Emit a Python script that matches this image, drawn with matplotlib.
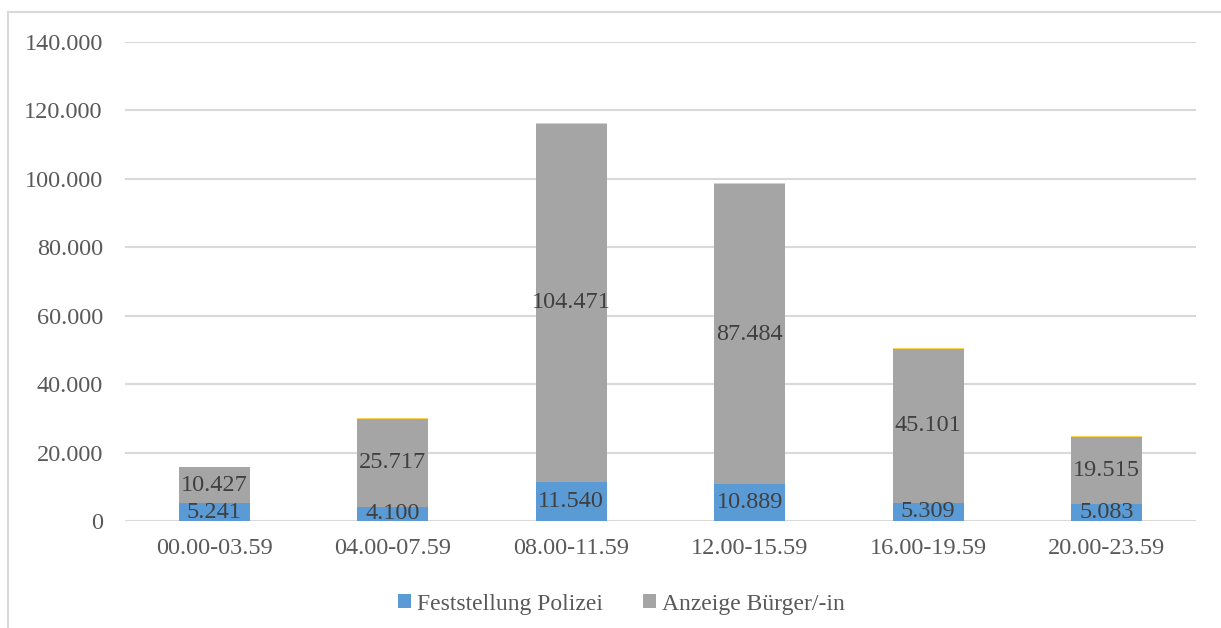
import numpy as np
import matplotlib.pyplot as plt
from matplotlib.lines import Line2D

# time slots and counts per source
zeitraum = ["00.00-03.59", "04.00-07.59", "08.00-11.59",
            "12.00-15.59", "16.00-19.59", "20.00-23.59"]
polizei = [5241, 4100, 11540, 10889, 5309, 5083]
buerger = [10427, 25717, 104471, 87484, 45101, 19515]
sonstige = [200, 220, 250, 300, 250, 230]

y_ticks = [0, 20000, 40000, 60000, 80000, 100000, 120000, 140000]

def fmt(v):
    return f"{v:,}".replace(",", ".")

plt.rcParams['font.family'] = ['Liberation Serif', 'DejaVu Serif']

fig = plt.figure(figsize=(12.21, 6.28), dpi=100)
ax = fig.add_axes([0.1024, 0.1704, 0.8771, 0.7627])

x = np.arange(len(zeitraum))
w = 0.40

b1 = ax.bar(x, polizei, w, color="#5B9BD5", linewidth=0,
            label="Feststellung Polizei", zorder=3)
b2 = ax.bar(x, buerger, w, bottom=polizei, color="#A5A5A5", linewidth=0,
            label="Anzeige Bürger/-in", zorder=3)
base3 = np.array(polizei) + np.array(buerger)
ax.bar(x, sonstige, w, bottom=base3, color="#FFD34D", linewidth=0, zorder=3)

for i in range(len(x)):
    ax.text(x[i], polizei[i] / 2, fmt(polizei[i]), ha="center", va="center",
            fontsize=17.5, color="#404040", zorder=4)
    ax.text(x[i], polizei[i] + buerger[i] / 2, fmt(buerger[i]), ha="center",
            va="center", fontsize=17.5, color="#404040", zorder=4)

ax.set_xlim(-0.5, len(x) - 0.5)
ax.set_ylim(0, 140000)
ax.set_yticks(y_ticks)
ax.set_yticklabels([fmt(v) for v in y_ticks])
ax.set_xticks(x)
ax.set_xticklabels(zeitraum)
ax.tick_params(axis="both", length=0, labelsize=17.5, labelcolor="#595959")
ax.tick_params(axis="y", pad=16)
ax.tick_params(axis="x", pad=12)
ax.grid(axis="y", color="#D9D9D9", linewidth=1.5, zorder=0)
for s in ax.spines.values():
    s.set_visible(False)

leg = fig.legend(handles=[b1, b2], loc="center", bbox_to_anchor=(0.509, 0.038),
                 ncol=2, frameon=False, fontsize=17, handlelength=0.55,
                 handleheight=0.55, handletextpad=0.25, columnspacing=1.7)
for t in leg.get_texts():
    t.set_color("#595959")

# chart area border (runs off the right and bottom edges)
fig.add_artist(Line2D([0.0062, 0.0062], [0, 0.981], color="#D9D9D9", linewidth=1.5))
fig.add_artist(Line2D([0.0062, 1.0], [0.981, 0.981], color="#D9D9D9", linewidth=1.5))

fig.savefig("out.png", dpi=100)
